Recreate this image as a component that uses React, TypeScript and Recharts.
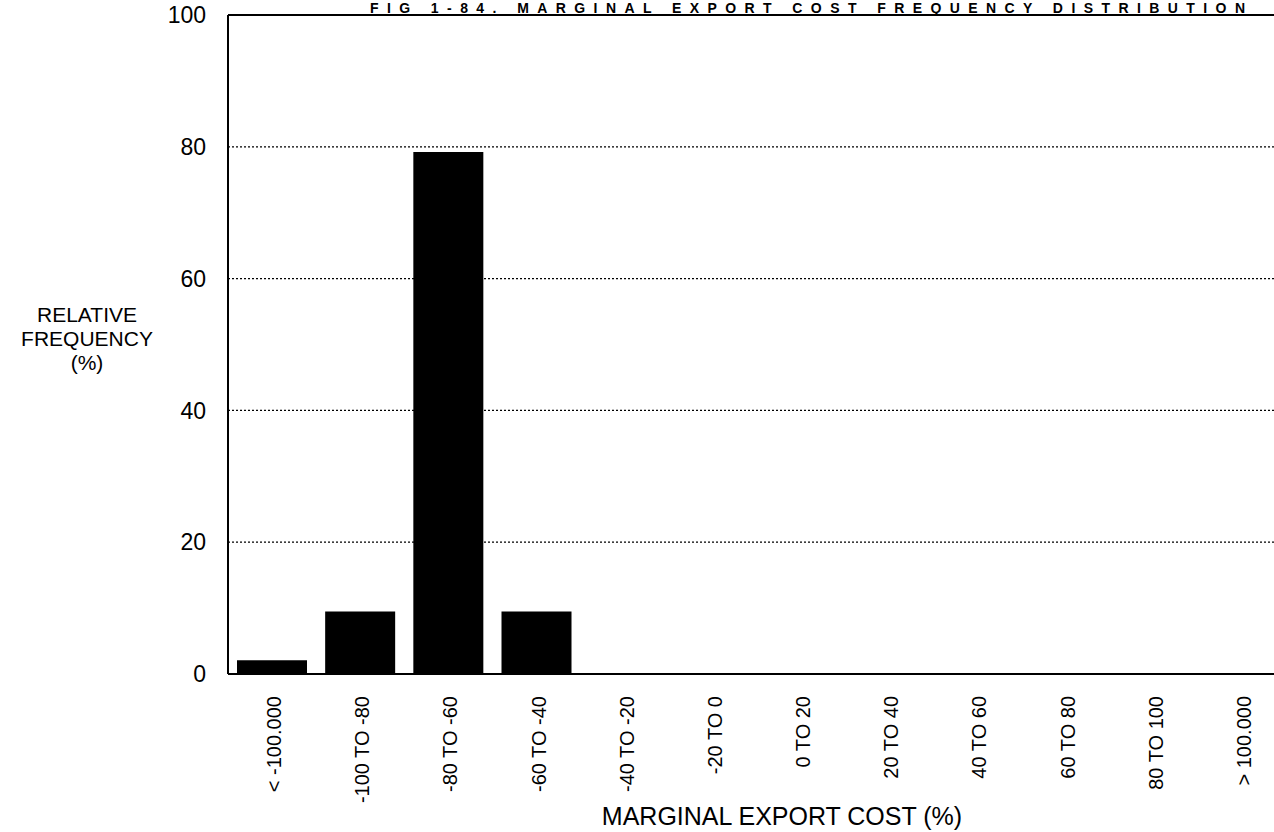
import { BarChart, Bar, XAxis, YAxis, CartesianGrid, ReferenceLine, Label } from 'recharts'

const categories = [
  '< -100.000',
  '-100 TO -80',
  '-80 TO -60',
  '-60 TO -40',
  '-40 TO -20',
  '-20 TO 0',
  '0 TO 20',
  '20 TO 40',
  '40 TO 60',
  '60 TO 80',
  '80 TO 100',
  '> 100.000',
]
const frequency = [2.1, 9.5, 79.2, 9.5, 0, 0, 0, 0, 0, 0, 0, 0]
const yTicks = [0, 20, 40, 60, 80, 100]

const FONT = '"Liberation Sans", Arial, Helvetica, sans-serif'

const chartData = categories.map((name, i) => ({ name, value: frequency[i] }))

// rotated category labels, read bottom-to-top
const RotatedTick = (props: any) => {
  const { x, y, payload } = props
  return (
    <text
      x={0}
      y={0}
      transform={`translate(${x + 9},${y + 14}) rotate(-90)`}
      textAnchor="end"
      fontSize={20}
      fontFamily={FONT}
      fill="#000"
    >
      {payload.value}
    </text>
  )
}

export default function App() {
  return (
    <div
      style={{
        position: 'fixed',
        left: 0,
        top: 0,
        width: 1274,
        height: 832,
        overflow: 'hidden',
        background: '#fff',
      }}
    >
      <BarChart
        width={1286}
        height={832}
        data={chartData}
        margin={{ top: 15, right: 0, left: 0, bottom: 38 }}
      >
        <CartesianGrid
          vertical={false}
          horizontal
          stroke="#000"
          strokeDasharray="2 2"
          strokeWidth={1.2}
        />
        <XAxis
          dataKey="name"
          height={120}
          interval={0}
          tickLine={false}
          axisLine={{ stroke: '#000', strokeWidth: 2 }}
          tick={<RotatedTick />}
        >
          <Label
            value="MARGINAL EXPORT COST (%)"
            position="insideBottom"
            offset={-31}
            dx={25}
            style={{ fontFamily: FONT, fontSize: 25, fill: '#000' }}
          />
        </XAxis>
        <YAxis
          width={228}
          domain={[0, 100]}
          ticks={yTicks}
          interval={0}
          tickSize={0}
          tickMargin={22}
          axisLine={{ stroke: '#000', strokeWidth: 2 }}
          tick={{ fontSize: 23, fontFamily: FONT, fill: '#000' }}
        >
          <Label
            content={() => (
              <g fontFamily={FONT} fontSize={21} fill="#000" textAnchor="middle">
                <text x={87} y={322}>RELATIVE</text>
                <text x={87} y={346}>FREQUENCY</text>
                <text x={87} y={370}>(%)</text>
                <text
                  x={370}
                  y={13}
                  textAnchor="start"
                  fontSize={14}
                  fontWeight="bold"
                  textLength={875}
                  lengthAdjust="spacing"
                >
                  FIG 1-84. MARGINAL EXPORT COST FREQUENCY DISTRIBUTION
                </text>
              </g>
            )}
          />
        </YAxis>
        <ReferenceLine y={100} stroke="#000" strokeWidth={2} />
        <Bar dataKey="value" fill="#000" barSize={70} isAnimationActive={false} />
      </BarChart>
    </div>
  )
}
